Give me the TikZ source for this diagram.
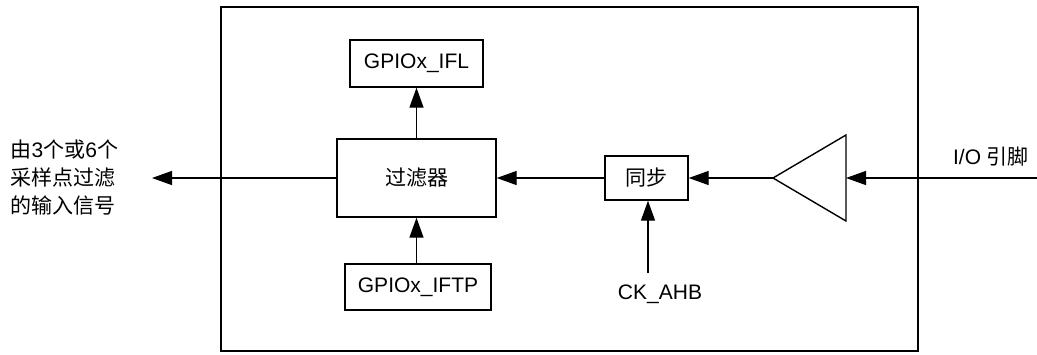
\documentclass[tikz,border=0pt]{standalone}
\usepackage{fontspec}
\setmainfont{Liberation Sans}
\newfontfamily\cjk{Noto Sans CJK SC}
\usetikzlibrary{arrows.meta}
\begin{document}
\begin{tikzpicture}[x=1pt,y=-1pt,
  line width=1.4pt,
  font=\fontsize{21}{28}\selectfont,
  box/.style={draw,line width=1.4pt,inner sep=0pt,minimum width=#1},
  arr/.style={-{Triangle[length=20pt,width=14pt]},line width=1.4pt},
  lbl/.style={inner sep=0pt}]
\useasboundingbox (0,0) rectangle (1037,354);
\node[draw,line width=1.2pt,minimum width=697pt,minimum height=344pt,inner sep=0pt] (frame) at (569.5,179) {};
\node[box=133pt,minimum height=47pt] (ifl) at (416.5,63.5) {GPIOx\_IFL};
\node[box=159pt,minimum height=78pt] (filt) at (416.5,178) {\cjk 过滤器};
\node[box=146pt,minimum height=46pt] (iftp) at (418,287) {GPIOx\_IFTP};
\node[box=83pt,minimum height=44pt] (sync) at (646.5,178) {\cjk 同步};
\coordinate (tip) at (773,178);
\coordinate (rt) at (846,135);
\coordinate (rb) at (846,221);
\coordinate (rin) at (846,178);
\draw[line width=1.4pt,line join=miter] (tip) -- (rt) -- (rb) -- cycle;
\node[lbl] (ck) at (660,294) {CK\_AHB};
\coordinate (ckin) at (648,273);
\node[lbl] (io) at (991,157) {I/O {\cjk 引脚}};
\coordinate (pin) at (1037,178);
\coordinate (outp) at (152,178);
\node[lbl,anchor=west,align=left] (outtxt) at (10,178) {{\cjk 由}3{\cjk 个或}6{\cjk 个}\\{\cjk 采样点过滤}\\{\cjk 的输入信号}};
\draw[arr] (filt.north) -- (ifl.south);
\draw[arr] (filt.south |- iftp.north) -- (filt.south);
\draw[arr] (sync.west) -- (filt.east);
\draw[arr] (tip) -- (sync.east);
\draw[arr] (pin) -- (rin);
\draw[arr] (ckin) -- (ckin |- sync.south);
\draw[arr] (filt.west) -- (outp);
\end{tikzpicture}
\end{document}
